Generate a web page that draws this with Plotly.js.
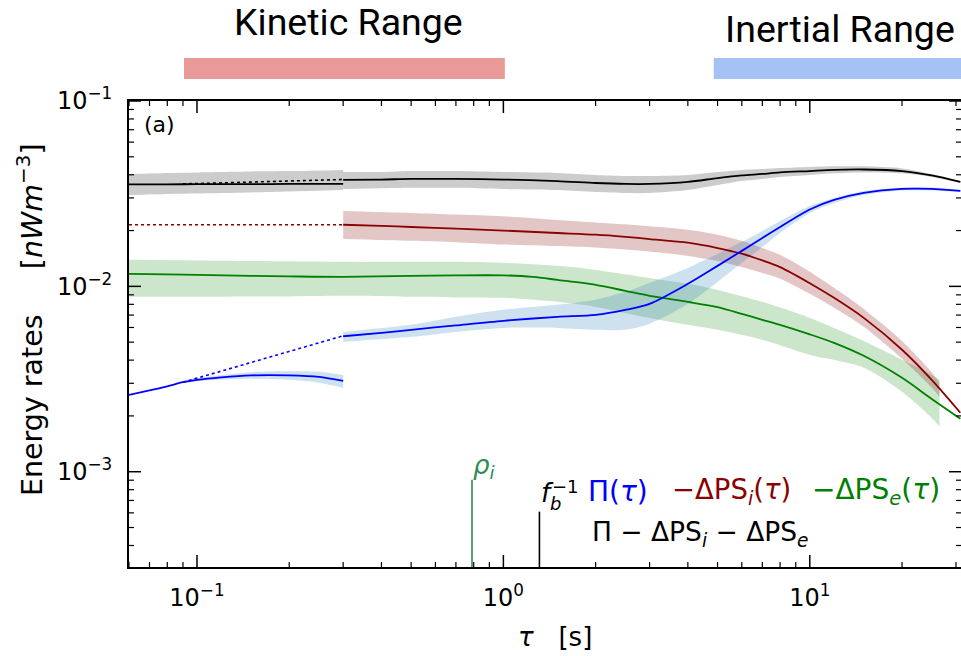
<!DOCTYPE html>
<html><head><meta charset="utf-8">
<script src="https://cdn.plot.ly/plotly-3.0.1.min.js"></script>
<style>html,body{margin:0;padding:0;background:#fff}</style>
</head><body><div id="chart" style="width:961px;height:656px"></div>
<script>
// ---------------- data (tau in s, energy rates in nW m^-3) ----------------
const tauSeg1 = [0.06, 0.07, 0.08, 0.09, 0.1, 0.12, 0.15, 0.2, 0.25, 0.3];
const piSeg1 = [0.00260, 0.00275, 0.00289, 0.00304, 0.00313, 0.00323, 0.00331, 0.00331, 0.00325, 0.00309];
const tauPiBand1 = [0.09, 0.1, 0.15, 0.2, 0.25, 0.3];
const piBand1Up = [0.00308, 0.00319, 0.00344, 0.00348, 0.00346, 0.00333];
const piBand1Lo = [0.00300, 0.00308, 0.00317, 0.00313, 0.00302, 0.00284];

const tauTot1 = [0.06, 0.08, 0.1, 0.15, 0.2, 0.3];
const totSeg1 = [0.0355, 0.0355, 0.0356, 0.0356, 0.0357, 0.0357];
const totBand1Up = [0.0404, 0.0409, 0.0412, 0.0417, 0.0419, 0.0425];
const totBand1Lo = [0.0311, 0.0315, 0.0317, 0.0321, 0.0325, 0.0331];

const tauRedExt = [0.06, 0.3];
const psiExt = [0.0215, 0.0215];
const tauPiExt = [0.09, 0.3];
const piExt = [0.00304, 0.00541];
const tauTotExt = [0.09, 0.3];
const totExt = [0.0357, 0.0377];

const tau2 = [0.3, 0.4, 0.5, 0.7, 1.0, 1.5, 2, 2.5, 3, 4, 5, 6, 7, 8, 10, 12, 15, 20, 25, 31];
const tot2 = [0.0375, 0.0377, 0.0380, 0.0380, 0.0377, 0.0370, 0.0361, 0.0357, 0.0357, 0.0366, 0.0384, 0.0397, 0.0404, 0.0412, 0.0419, 0.0425, 0.0427, 0.0419, 0.0397, 0.0366];
const tot2Up = [0.0414, 0.0414, 0.0419, 0.0419, 0.0414, 0.0409, 0.0399, 0.0394, 0.0394, 0.0399, 0.0414, 0.0425, 0.0430, 0.0435, 0.0441, 0.0444, 0.0444, 0.0433, 0.0404, 0.0370];
const tot2Lo = [0.0335, 0.0338, 0.0340, 0.0340, 0.0335, 0.0331, 0.0323, 0.0319, 0.0319, 0.0331, 0.0352, 0.0370, 0.0380, 0.0389, 0.0399, 0.0407, 0.0412, 0.0407, 0.0389, 0.0361];
const psi2 = [0.0215, 0.0212, 0.0209, 0.0205, 0.0200, 0.0194, 0.0190, 0.0185, 0.0180, 0.0172, 0.0161, 0.0150, 0.0138, 0.0127, 0.0104, 0.00867, 0.00676, 0.00455, 0.00313, 0.00208];
const pi2 = [0.00538, 0.00561, 0.00583, 0.00616, 0.00652, 0.00685, 0.00702, 0.00747, 0.00805, 0.01032, 0.01290, 0.01554, 0.01826, 0.02093, 0.02600, 0.02926, 0.03192, 0.03354, 0.03354, 0.03272];

const tauPsiBand = [0.3, 0.5, 0.7, 1, 1.5, 2, 2.5, 3, 4, 5, 6, 7, 8, 10, 12, 15, 20, 25, 26.5];
const psiBandUp = [0.0255, 0.0249, 0.0244, 0.0239, 0.0228, 0.0221, 0.0216, 0.0211, 0.0202, 0.0190, 0.0176, 0.0161, 0.0148, 0.0120, 0.00982, 0.00756, 0.00508, 0.00344, 0.00302];
const psiBandLo = [0.0180, 0.0176, 0.0173, 0.0168, 0.0165, 0.0162, 0.0158, 0.0154, 0.0146, 0.0137, 0.0127, 0.0118, 0.0110, 0.00911, 0.00766, 0.00605, 0.00407, 0.00285, 0.00254];

const tauPiBand2 = [0.3, 0.5, 0.7, 1.0, 1.5, 2, 2.5, 3, 4, 5, 6, 7, 8, 10, 12, 15, 20, 25, 31];
const piBand2Up = [0.00568, 0.00620, 0.00685, 0.00747, 0.00795, 0.00846, 0.00934, 0.01044, 0.01258, 0.01497, 0.01738, 0.01992, 0.02255, 0.02716, 0.03000, 0.03272, 0.03418, 0.03418, 0.03313];
const piBand2Lo = [0.00502, 0.00534, 0.00568, 0.00597, 0.00597, 0.00583, 0.00583, 0.00628, 0.00805, 0.01057, 0.01339, 0.01632, 0.01943, 0.02490, 0.02819, 0.03112, 0.03292, 0.03292, 0.03232];

const tauPse = [0.06, 0.08, 0.1, 0.15, 0.2, 0.3, 0.5, 0.7, 1.0, 1.25, 1.5, 2, 2.5, 3, 4, 5, 6, 7, 8, 10, 12, 15, 20, 25, 31];
const pse = [0.01168, 0.01161, 0.01153, 0.01139, 0.01132, 0.01125, 0.01139, 0.01146, 0.01146, 0.01125, 0.01084, 0.01019, 0.00946, 0.00889, 0.00825, 0.00773, 0.00711, 0.00660, 0.00620, 0.00551, 0.00496, 0.00422, 0.00321, 0.00247, 0.00193];
const tauPseBand = [0.06, 0.1, 0.2, 0.3, 0.5, 0.7, 1.0, 1.5, 2, 3, 4, 5, 7, 10, 15, 20, 25, 26.5];
const pseBandUp = [0.01390, 0.01381, 0.01364, 0.01356, 0.01356, 0.01356, 0.01339, 0.01290, 0.01227, 0.01111, 0.01032, 0.00957, 0.00825, 0.00676, 0.00508, 0.00402, 0.00333, 0.00313];
const pseBandLo = [0.00878, 0.00878, 0.00883, 0.00889, 0.00878, 0.00872, 0.00867, 0.00825, 0.00775, 0.00676, 0.00620, 0.00583, 0.00515, 0.00427, 0.00364, 0.00270, 0.00195, 0.00175];

const rhoTau = [0.79, 0.79];
const rhoMark = [0.0003, 0.000905];
const fbTau = [1.311, 1.311];
const fbMark = [0.0003, 0.000609];

const kineticRange = [0.0907, 1.011];
const inertialRange = [4.86, 40];

const xTickVals = [0.1, 1, 10];
const xTickText = ['10<sup>−1</sup>', '10<sup>0</sup>', '10<sup>1</sup>'];
const yTickVals = [0.001, 0.01, 0.1];
const yTickText = ['10<sup>−3</sup>', '10<sup>−2</sup>', '10<sup>−1</sup>'];

// ---------------- traces ----------------
const traces = [];
function band(t, up, lo, color) {
  traces.push({x: t, y: lo, type: 'scatter', mode: 'lines',
    line: {width: 0, shape: 'spline', smoothing: 0.8}, hoverinfo: 'skip', showlegend: false});
  traces.push({x: t, y: up, type: 'scatter', mode: 'lines', fill: 'tonexty', fillcolor: color,
    line: {width: 0, shape: 'spline', smoothing: 0.8}, hoverinfo: 'skip', showlegend: false});
}
function curve(t, v, color, dash, w) {
  traces.push({x: t, y: v, type: 'scatter', mode: 'lines',
    line: {color: color, width: w || 1.8, dash: dash || 'solid', shape: 'spline', smoothing: 0.8},
    hoverinfo: 'skip', showlegend: false});
}
const BLUE = '#0000ff', RED = '#8b0000', GREEN = '#008000';
band(tauTot1, totBand1Up, totBand1Lo, 'rgba(0,0,0,0.2)');
band(tau2, tot2Up, tot2Lo, 'rgba(0,0,0,0.2)');
band(tauPseBand, pseBandUp, pseBandLo, 'rgba(0,128,0,0.2)');
band(tauPsiBand, psiBandUp, psiBandLo, 'rgba(128,0,0,0.22)');
band(tauPiBand1, piBand1Up, piBand1Lo, 'rgba(31,119,180,0.22)');
band(tauPiBand2, piBand2Up, piBand2Lo, 'rgba(31,119,180,0.22)');

curve(tauTotExt, totExt, '#000', 'dot', 1.6);
curve(tauRedExt, psiExt, RED, 'dot', 1.6);
curve(tauPiExt, piExt, BLUE, 'dot', 1.6);
curve(tauTot1, totSeg1, '#000');
curve(tau2, tot2, '#000');
curve(tauPse, pse, GREEN);
curve(tau2, psi2, RED);
curve(tauSeg1, piSeg1, BLUE);
curve(tau2, pi2, BLUE);
traces.push({x: rhoTau, y: rhoMark, type: 'scatter', mode: 'lines', line: {color: '#2e8b57', width: 1.6}, hoverinfo: 'skip', showlegend: false});
traces.push({x: fbTau, y: fbMark, type: 'scatter', mode: 'lines', line: {color: '#000', width: 1.6}, hoverinfo: 'skip', showlegend: false});

// ---------------- layout ----------------
const L = 129, R = 961, T = 101, B = 567;
const W = R - L, H = B - T;
const px = p => (p - L) / W;
const py = p => (B - p) / H;
const X0 = 0.06, X1 = Math.pow(10, 1.4935), Y0 = Math.pow(10, -3.514), Y1 = 0.1;

const DJ = 'DejaVu Sans, Liberation Sans, sans-serif';
function ann(text, x, y, size, color, xanchor, extra) {
  return Object.assign({text: text, xref: 'paper', yref: 'paper', x: px(x), y: py(y), xanchor: xanchor || 'left', yanchor: 'middle',
    showarrow: false, font: {family: DJ, size: size, color: color || '#000'}}, extra || {});
}
const NB = '\u00a0';
const annotations = [
  ann('Kinetic Range', 348.5, 22.2, 37.5, '#000', 'center', {font: {family: 'Roboto, sans-serif', size: 37.5, color: '#000'}}),
  ann('Inertial Range', 840, 28.9, 37.5, '#000', 'center', {font: {family: 'Roboto, sans-serif', size: 37.5, color: '#000'}}),
  ann('(a)', 142, 124.7, 22),
  ann('<i>ρ</i><sub><i>i</i></sub>', 471, 466, 26, '#2e8b57'),
  ann('<i>f</i>', 539, 493, 26),
  ann('<i>b</i>', 548, 503.8, 18),
  ann('−1', 550, 486.8, 18),
  ann('Π(<i>τ</i>)', 586, 491.7, 28, BLUE),
  ann('−ΔPS<sub><i>i</i></sub>(<i>τ</i>)', 670, 491.7, 27.5, RED),
  ann('−ΔPS<sub><i>e</i></sub>(<i>τ</i>)', 810, 491.7, 28, GREEN),
  ann('Π − ΔPS<sub><i>i</i></sub> − ΔPS<sub><i>e</i></sub>', 590, 533.7, 26.5, '#000'),
  ann('Energy rates' + NB + NB + NB + NB + NB + '[<i>nWm</i><sup>−3</sup>]', 30, 320, 28.5, '#000', 'center', {textangle: -90}),
  ann('<i>τ</i>' + NB + NB + NB + '[s]', 555, 637, 26, '#000', 'center')
];

const shapes = [
  {type: 'rect', xref: 'x', yref: 'paper', x0: kineticRange[0], x1: kineticRange[1], y0: py(79), y1: py(58), fillcolor: '#ea9999', line: {width: 0}, layer: 'above'},
  {type: 'rect', xref: 'x', yref: 'paper', x0: inertialRange[0], x1: inertialRange[1], y0: py(79), y1: py(58), fillcolor: '#a4c2f4', line: {width: 0}, layer: 'above'}
];
// axis tick marks (major + minor, inside, on all four sides)
function tickSet(lo, hi, decLo, decHi) {
  const out = [];
  for (let d = decLo; d <= decHi; d++) for (let k = 1; k <= 9; k++) {
    const v = k * Math.pow(10, d);
    if (v >= lo * 0.999 && v <= hi * 1.001) out.push({v: v, major: k === 1});
  }
  return out;
}
tickSet(X0, X1, -2, 1).forEach(t => {
  const len = (t.major ? 12 : 5) / H, w = t.major ? 1.5 : 1.2;
  shapes.push({type: 'line', xref: 'x', yref: 'paper', x0: t.v, x1: t.v, y0: 0, y1: len, line: {color: '#000', width: w}, layer: 'above'});
  shapes.push({type: 'line', xref: 'x', yref: 'paper', x0: t.v, x1: t.v, y0: 1, y1: 1 - len, line: {color: '#000', width: w}, layer: 'above'});
});
tickSet(Y0, Y1, -4, -1).forEach(t => {
  const len = (t.major ? 12 : 5) / W, w = t.major ? 1.5 : 1.2;
  shapes.push({type: 'line', xref: 'paper', yref: 'y', x0: 0, x1: len, y0: t.v, y1: t.v, line: {color: '#000', width: w}, layer: 'above'});
  shapes.push({type: 'line', xref: 'paper', yref: 'y', x0: 1, x1: 1 - len, y0: t.v, y1: t.v, line: {color: '#000', width: w}, layer: 'above'});
});

const axisCommon = {
  type: 'log', tickmode: 'array', ticks: '',
  showline: true, linecolor: '#000', linewidth: 2, mirror: true, showgrid: false, zeroline: false,
  tickfont: {family: DJ, size: 24, color: '#000'}
};
const layout = {
  width: 961, height: 656, margin: {l: L, r: 961 - R, t: T, b: 656 - B, pad: 0},
  paper_bgcolor: '#fff', plot_bgcolor: '#fff', showlegend: false,
  xaxis: Object.assign({}, axisCommon, {range: [Math.log10(X0), Math.log10(X1)], tickvals: xTickVals, ticktext: xTickText,
    ticklabelstandoff: 8}),
  yaxis: Object.assign({}, axisCommon, {range: [Math.log10(Y0), Math.log10(Y1)], tickvals: yTickVals, ticktext: yTickText,
    ticklabelstandoff: 10}),
  annotations: annotations, shapes: shapes
};
Plotly.newPlot('chart', traces, layout, {displayModeBar: false, staticPlot: true});
</script>
</body></html>
